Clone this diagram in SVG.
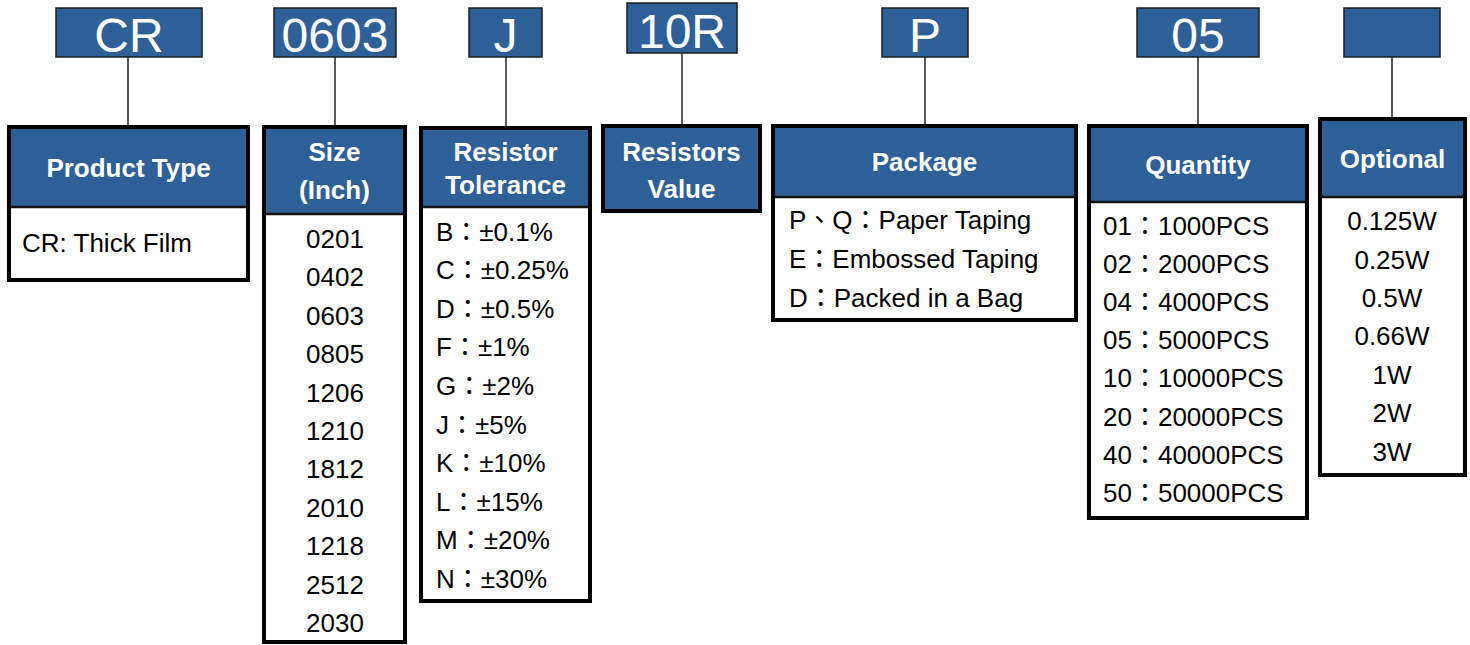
<svg xmlns="http://www.w3.org/2000/svg" width="1470" height="645" viewBox="0 0 1470 645">
<style>
.code{fill:#2E5F96;stroke:#1e1e1e;stroke-width:1.5}
.codet{font-family:"Liberation Sans",Arial,sans-serif;font-size:48px;fill:#fff;text-anchor:middle}
.frame{fill:#fff;stroke:#000;stroke-width:4}
.frameo{fill:none;stroke:#000;stroke-width:4}
.hdr{fill:#2E5F96}
.div{stroke:#111;stroke-width:2.5}
.ht{font-family:"Liberation Sans",Arial,sans-serif;font-size:26px;font-weight:bold;fill:#fff;text-anchor:middle}
.bt{font-family:"Liberation Sans","Noto Sans CJK TC",sans-serif;font-size:26px;fill:#000}
.c{text-anchor:middle}
.con{stroke:#000;stroke-width:1.3;fill:none}
</style>

<g id="connectors">
<line class="con" x1="128" y1="57" x2="128" y2="125"/>
<line class="con" x1="335" y1="57" x2="335" y2="125"/>
<line class="con" x1="506" y1="57" x2="506" y2="126"/>
<line class="con" x1="682" y1="53" x2="682" y2="124"/>
<line class="con" x1="925" y1="57" x2="925" y2="124"/>
<line class="con" x1="1198" y1="57" x2="1198" y2="124"/>
<line class="con" x1="1392" y1="57" x2="1392" y2="117"/>
</g>

<g id="code-cr"><rect class="code" x="56" y="8" width="146" height="49"/><text class="codet" x="129" y="52">CR</text></g>
<g id="code-0603"><rect class="code" x="274" y="8" width="122" height="49"/><text class="codet" x="335" y="52">0603</text></g>
<g id="code-j"><rect class="code" x="469" y="8" width="73" height="49"/><text class="codet" x="505.5" y="52">J</text></g>
<g id="code-10r"><rect class="code" x="627" y="3" width="110" height="50"/><text class="codet" x="682" y="48">10R</text></g>
<g id="code-p"><rect class="code" x="882" y="8" width="86" height="49"/><text class="codet" x="925" y="52">P</text></g>
<g id="code-05"><rect class="code" x="1137" y="8" width="122" height="49"/><text class="codet" x="1198" y="52">05</text></g>
<g id="code-opt"><rect class="code" x="1344" y="8" width="96" height="49"/></g>

<g id="product-type">
<rect class="frame" x="9" y="127" width="239" height="153"/>
<rect class="hdr" x="9" y="127" width="239" height="79"/>
<line class="div" x1="9" y1="207" x2="248" y2="207"/>
<rect class="frameo" x="9" y="127" width="239" height="153"/>
<text class="ht" x="128.5" y="177">Product Type</text>
<text class="bt" x="22" y="252">CR: Thick Film</text>
</g>

<g id="size">
<rect class="frame" x="264" y="127" width="141" height="515"/>
<rect class="hdr" x="264" y="127" width="141" height="86"/>
<line class="div" x1="264" y1="214" x2="405" y2="214"/>
<rect class="frameo" x="264" y="127" width="141" height="515"/>
<text class="ht" x="334.5" y="161">Size</text>
<text class="ht" x="334.5" y="199">(Inch)</text>
<g class="bt c">
<text x="335" y="248">0201</text>
<text x="335" y="286.4">0402</text>
<text x="335" y="324.8">0603</text>
<text x="335" y="363.2">0805</text>
<text x="335" y="401.6">1206</text>
<text x="335" y="440">1210</text>
<text x="335" y="478.4">1812</text>
<text x="335" y="516.8">2010</text>
<text x="335" y="555.2">1218</text>
<text x="335" y="593.6">2512</text>
<text x="335" y="632">2030</text>
</g>
</g>

<g id="tolerance">
<rect class="frame" x="421" y="128" width="169" height="473"/>
<rect class="hdr" x="421" y="128" width="169" height="78"/>
<line class="div" x1="421" y1="207" x2="590" y2="207"/>
<rect class="frameo" x="421" y="128" width="169" height="473"/>
<text class="ht" x="505.5" y="161">Resistor</text>
<text class="ht" x="505.5" y="194">Tolerance</text>
<g class="bt">
<text x="436" y="240.5">B：±0.1%</text>
<text x="436" y="279.1">C：±0.25%</text>
<text x="436" y="317.7">D：±0.5%</text>
<text x="436" y="356.3">F：±1%</text>
<text x="436" y="394.9">G：±2%</text>
<text x="436" y="433.5">J：±5%</text>
<text x="436" y="472.1">K：±10%</text>
<text x="436" y="510.7">L：±15%</text>
<text x="436" y="549.3">M：±20%</text>
<text x="436" y="587.9">N：±30%</text>
</g>
</g>

<g id="resistors-value">
<rect class="hdr" x="603" y="126" width="157" height="85" stroke="#000" stroke-width="4"/>
<text class="ht" x="681.5" y="161">Resistors</text>
<text class="ht" x="681.5" y="198">Value</text>
</g>

<g id="package">
<rect class="frame" x="773" y="126" width="303" height="194"/>
<rect class="hdr" x="773" y="126" width="303" height="70"/>
<line class="div" x1="773" y1="197" x2="1076" y2="197"/>
<rect class="frameo" x="773" y="126" width="303" height="194"/>
<text class="ht" x="924.5" y="171">Package</text>
<g class="bt">
<text x="789" y="229">P、Q：Paper Taping</text>
<text x="789" y="268">E：Embossed Taping</text>
<text x="789" y="307">D：Packed in a Bag</text>
</g>
</g>

<g id="quantity">
<rect class="frame" x="1089" y="126" width="218" height="392"/>
<rect class="hdr" x="1089" y="126" width="218" height="75"/>
<line class="div" x1="1089" y1="202" x2="1307" y2="202"/>
<rect class="frameo" x="1089" y="126" width="218" height="392"/>
<text class="ht" x="1198" y="174">Quantity</text>
<g class="bt">
<text x="1103" y="235">01：1000PCS</text>
<text x="1103" y="273.1">02：2000PCS</text>
<text x="1103" y="311.2">04：4000PCS</text>
<text x="1103" y="349.3">05：5000PCS</text>
<text x="1103" y="387.4">10：10000PCS</text>
<text x="1103" y="425.5">20：20000PCS</text>
<text x="1103" y="463.6">40：40000PCS</text>
<text x="1103" y="501.7">50：50000PCS</text>
</g>
</g>

<g id="optional">
<rect class="frame" x="1320" y="119" width="145" height="356"/>
<rect class="hdr" x="1320" y="119" width="145" height="77"/>
<line class="div" x1="1320" y1="197" x2="1465" y2="197"/>
<rect class="frameo" x="1320" y="119" width="145" height="356"/>
<text class="ht" x="1392.5" y="168">Optional</text>
<g class="bt c">
<text x="1392" y="230">0.125W</text>
<text x="1392" y="268.5">0.25W</text>
<text x="1392" y="306.9">0.5W</text>
<text x="1392" y="345.4">0.66W</text>
<text x="1392" y="383.8">1W</text>
<text x="1392" y="422.3">2W</text>
<text x="1392" y="460.7">3W</text>
</g>
</g>
</svg>
